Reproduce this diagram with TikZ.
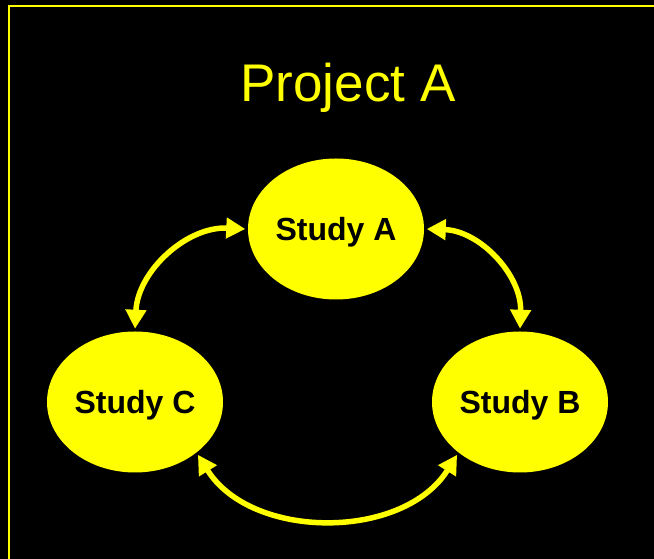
\documentclass[tikz,border=0pt]{standalone}
\usepackage{fontspec}
\setmainfont{Liberation Sans}
\usepackage{tikz}
\usetikzlibrary{arrows.meta,shapes.geometric,calc,positioning}
\definecolor{slideyellow}{RGB}{255,255,0}

\begin{document}
\begin{tikzpicture}[x=1pt,y=1pt,line width=5.5pt,>={Triangle[length=19pt,width=20pt]},
  study/.style={ellipse,fill=slideyellow,inner sep=0pt,minimum width=176pt,
    minimum height=141pt,font=\fontsize{32}{32}\selectfont\bfseries,
    text height=23pt,text depth=0pt}]
\fill[black] (0,0) rectangle (654,559);
\useasboundingbox (0,0) rectangle (654,559);
\clip (0,0) rectangle (654,559);
\draw[slideyellow,line width=2.5pt] (9,-5) -- (9,553) -- (660,553);
\node[anchor=base,text=slideyellow,font=\fontsize{53}{53}\selectfont] (title) at (348,457) {Project A};
\node[study] (sa) at (336,330) {Study A};
\node[study] (sc) at (135,157) {Study C};
\node[study] (sb) at (520,157) {Study B};
\draw[<->,slideyellow] (sa.west) to[bend right=45] (sc.north);
\draw[<->,slideyellow] (sa.east) to[bend left=45] (sb.north);
\draw[<->,slideyellow] (sc.-40) to[bend right=58] (sb.220);
\end{tikzpicture}
\end{document}
